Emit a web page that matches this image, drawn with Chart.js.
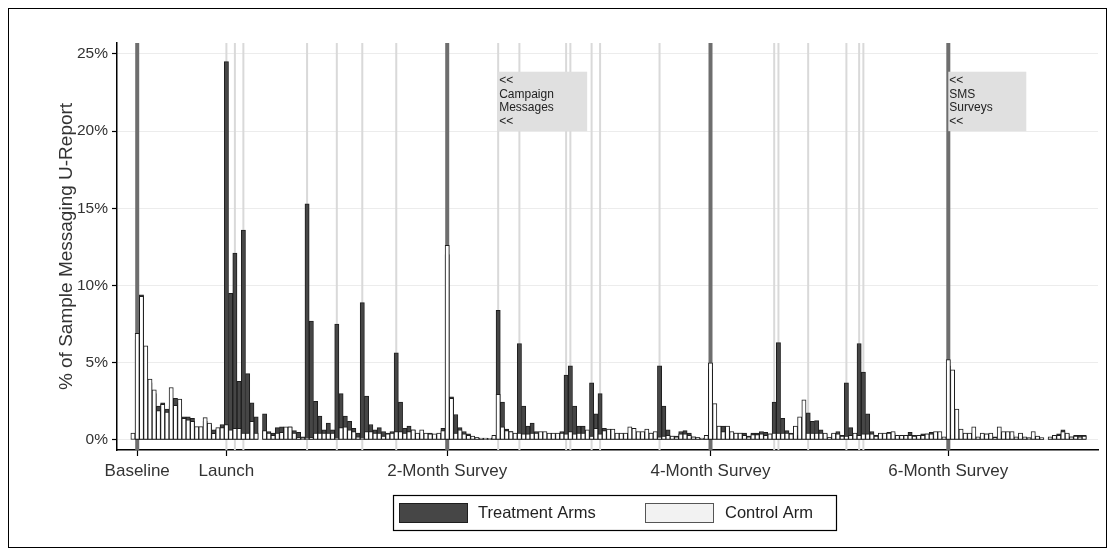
<!DOCTYPE html>
<html>
<head>
<meta charset="utf-8">
<script src="https://cdn.jsdelivr.net/npm/chart.js@4.4.1/dist/chart.umd.min.js"></script>
<style>
  html, body { margin: 0; padding: 0; background: #fff; }
  #wrap { position: relative; width: 1112px; height: 551px; overflow: hidden; }
  #chart { position: absolute; left: 0; top: 0; }
  #frame { position: absolute; left: 8px; top: 8px; width: 1099px; height: 540px; border: 1px solid #000; box-sizing: border-box; pointer-events: none; }
</style>
</head>
<body>
<div id="wrap">
  <canvas id="chart" width="1112" height="551"></canvas>
  <div id="frame"></div>
</div>
<script>
// daily % of sample messaging U-Report, day 0 = day before baseline survey
// null = no data that day
const treatment = [
  0, 6.5, 9.4, 5.8, 3.7, 3.0, 2.2, 2.4, 2.0, 2.2,
  2.7, 2.4, 1.5, 1.5, 1.4, 0.8, 0.7, 1.2, 1.0, 0.65,
  0.7, 1.0, 24.5, 9.5, 12.1, 3.8, 13.6, 4.3, 2.4, 1.5,
  null, 1.7, 0.55, 0.45, 0.8, 0.85, 0.8, 0.85, 0.6, 0.5,
  0.2, 15.3, 7.7, 2.5, 1.55, 0.65, 1.1, 0.65, 7.5, 3.0,
  1.55, 1.2, 0.75, 0.45, 8.9, 2.85, 1.0, 0.65, 0.8, 0.55,
  0.45, 0.55, 5.65, 2.45, 0.75, 0.9, 0.65, 0.4, 0.45, 0.4,
  0.45, 0.3, 0.35, 0.75, 12.0, 2.8, 1.65, 0.8, 0.55, 0.4,
  0.2, 0.15, 0.1, 0.12, 0.1, 0.2, 8.4, 2.45, 0.7, 0.55,
  0.35, 6.25, 2.2, 0.9, 1.1, 0.55, 0.45, 0.4, 0.3, 0.4,
  0.3, 0.55, 4.2, 4.8, 2.2, 0.9, 0.9, 0.55, 3.7, 1.7,
  3.0, 0.75, 0.55, 0.45, 0.4, 0.4, 0.35, 0.4, 0.55, 0.45,
  0.4, 0.45, 0.45, 0.35, 4.8, 2.2, 0.65, 0.25, 0.25, 0.55,
  0.6, 0.45, 0.2, 0.15, 0.1, 0.2, 4.6, 0.3, 0.9, 0.9,
  0.75, 0.45, 0.45, 0.45, 0.45, 0.25, 0.45, 0.45, 0.55, 0.5,
  0.4, 2.45, 6.3, 1.4, 0.6, 0.45, 0.25, 0.3, 0.45, 1.75,
  1.2, 1.25, 0.65, 0.4, 0.15, 0.4, 0.55, 0.3, 3.7, 0.8,
  0.4, 6.25, 4.4, 1.7, 0.55, 0.3, 0.3, 0.4, 0.5, 0.45,
  0.2, 0.2, 0.2, 0.5, 0.3, 0.2, 0.4, 0.4, 0.5, 0.2,
  0.2, 0.15, 4.8, 0.3, 0.2, 0.2, 0.2, 0.2, 0.25, 0.1,
  0.2, 0.4, 0.3, 0.2, 0.3, 0.45, 0.4, 0.3, 0.1, 0.2,
  0.15, 0.15, 0.2, 0.15, 0.1, null, 0.1, 0.2, 0.4, 0.65,
  0.4, 0.2, 0.3, 0.3, 0.3
];
const control = [
  0.45, 6.9, 9.3, 6.1, 3.95, 3.25, 1.9, 2.3, 1.8, 3.4,
  2.25, 2.65, 1.4, 1.3, 1.2, 0.86, 0.86, 1.45, 1.1, 0.43,
  0.8, 0.8, 1.0, 0.65, 0.75, 0.75, 0.45, 0.45, 1.2, 0.45,
  null, 0.6, 0.45, 0.3, 0.45, 0.5, 0.85, 0.85, 0.45, 0.15,
  0.1, 0.1, 0.15, 0.45, 0.45, 0.45, 0.45, 0.45, 0.1, 0.8,
  0.85, 0.65, 0.55, 0.2, 0.1, 0.55, 0.55, 0.45, 0.45, 0.25,
  0.4, 0.45, 0.55, 0.55, 0.45, 0.55, 0.65, 0.45, 0.65, 0.45,
  0.4, 0.4, 0.45, 0.6, 12.6, 2.7, 0.45, 0.65, 0.4, 0.3,
  0.25, 0.15, 0.12, 0.1, 0.1, 0.3, 2.95, 0.85, 0.6, 0.55,
  0.45, 0.45, 0.4, 0.4, 0.45, 0.45, 0.55, 0.55, 0.45, 0.45,
  0.45, 0.45, 0.4, 0.55, 0.4, 0.45, 0.45, 0.65, 0.25, 0.75,
  0.4, 0.6, 0.7, 0.7, 0.45, 0.45, 0.45, 0.85, 0.75, 0.55,
  0.55, 0.7, 0.45, 0.55, 0.2, 0.25, 0.3, 0.25, 0.2, 0.4,
  0.4, 0.3, 0.2, 0.15, 0.12, 0.3, 5.0, 2.35, 0.9, 0.55,
  0.9, 0.55, 0.45, 0.45, 0.3, 0.2, 0.35, 0.35, 0.4, 0.3,
  0.4, 0.45, 0.45, 0.45, 0.45, 0.4, 0.9, 1.5, 2.6, 0.45,
  0.45, 0.45, 0.45, 0.45, 0.15, 0.45, 0.4, 0.25, 0.25, 0.3,
  0.45, 0.3, 0.4, 0.4, 0.4, 0.25, 0.45, 0.45, 0.45, 0.55,
  0.3, 0.3, 0.3, 0.3, 0.25, 0.3, 0.3, 0.4, 0.4, 0.55,
  0.55, 0.2, 5.2, 4.55, 2.0, 0.7, 0.45, 0.45, 0.85, 0.2,
  0.45, 0.4, 0.45, 0.15, 0.85, 0.55, 0.55, 0.55, 0.2, 0.45,
  0.2, 0.1, 0.55, 0.25, 0.15, null, 0.2, 0.3, 0.3, 0.55,
  0.45, 0.2, 0.25, 0.2, 0.25
];

const surveyDays = [1, 74, 136, 192];
const campaignDays = [22, 24, 26, 41, 48, 54, 62, 86, 91, 102, 103, 108, 110, 124, 151, 152, 159, 168, 171, 172];
const tickDays = [1, 22, 74, 136, 192];
const tickLabels = ['Baseline', 'Launch', '2-Month Survey', '4-Month Survey', '6-Month Survey'];
const yTicks = [0, 5, 10, 15, 20, 25];
const noteDays = [86, 192];
const noteText = [['<<', 'Campaign', 'Messages', '<<'], ['<<', 'SMS', 'Surveys', '<<']];
const seriesNames = ['Treatment Arms', 'Control Arm'];

const days = treatment.map((v, i) => i);

Chart.defaults.font.family = "'Liberation Sans', Arial, sans-serif";
Chart.defaults.color = '#333';

const eventLines = {
  id: 'eventLines',
  beforeDatasetsDraw(chart) {
    const { ctx, chartArea: a, scales: { x } } = chart;
    ctx.save();
    ctx.beginPath();
    ctx.rect(a.left, a.top, a.right - a.left, a.bottom - a.top);
    ctx.clip();
    function draw(list, color, w) {
      ctx.strokeStyle = color;
      ctx.lineWidth = w;
      list.forEach(d => {
        const px = x.getPixelForValue(d);
        ctx.beginPath();
        ctx.moveTo(px, a.top);
        ctx.lineTo(px, a.bottom);
        ctx.stroke();
      });
    }
    draw(campaignDays, '#d9d9d9', 2);
    draw(surveyDays, '#6e6e6e', 4);
    ctx.restore();
  }
};

const notes = {
  id: 'notes',
  afterDatasetsDraw(chart) {
    const { ctx, scales: { x, y } } = chart;
    const widths = [89, 78];
    ctx.save();
    noteDays.forEach((d, i) => {
      const left = x.getPixelForValue(d);
      const top = y.getPixelForValue(23.85);
      const bottom = y.getPixelForValue(20);
      ctx.fillStyle = '#e0e0e0';
      ctx.fillRect(left, top, widths[i], bottom - top);
      ctx.fillStyle = '#222';
      ctx.font = "12px 'Liberation Sans', Arial, sans-serif";
      ctx.textBaseline = 'middle';
      noteText[i].forEach((t, j) => ctx.fillText(t, left + 1, top + 9 + j * 13.5));
    });
    ctx.restore();
  }
};

// Stata style boxed legend under the axis
const boxLegend = {
  id: 'boxLegend',
  afterDraw(chart) {
    const { ctx } = chart;
    ctx.save();
    ctx.strokeStyle = '#000';
    ctx.lineWidth = 1.2;
    ctx.strokeRect(393.5, 495.5, 443, 35);
    ctx.font = "16.5px 'Liberation Sans', Arial, sans-serif";
    ctx.textBaseline = 'middle';
    const items = [
      { x: 399, fill: '#464646', stroke: '#1e1e1e', tx: 478 },
      { x: 645, fill: '#f2f2f2', stroke: '#555', tx: 725 }
    ];
    items.forEach((it, i) => {
      ctx.fillStyle = it.fill;
      ctx.fillRect(it.x, 503, 68, 19);
      ctx.strokeStyle = it.stroke;
      ctx.lineWidth = 1;
      ctx.strokeRect(it.x + 0.5, 503.5, 68, 19);
      ctx.fillStyle = '#222';
      ctx.fillText(seriesNames[i], it.tx, 513);
    });
    ctx.restore();
  }
};

new Chart(document.getElementById('chart'), {
  type: 'bar',
  data: {
    datasets: [
      {
        label: seriesNames[0],
        data: days.map(d => ({ x: d, y: treatment[d] })),
        backgroundColor: '#464646',
        borderColor: '#1e1e1e',
        borderWidth: 1,
        borderSkipped: false,
        grouped: false,
        barPercentage: 1,
        categoryPercentage: 1,
        order: 1
      },
      {
        label: seriesNames[1],
        data: days.map(d => ({ x: d, y: control[d] })),
        backgroundColor: '#ffffff',
        borderColor: '#1e1e1e',
        borderWidth: 1,
        borderSkipped: false,
        grouped: false,
        barPercentage: 1,
        categoryPercentage: 1,
        order: 0
      }
    ]
  },
  options: {
    responsive: false,
    animation: false,
    devicePixelRatio: 1,
    layout: { padding: { top: 43, right: 14, bottom: 56, left: 0 } },
    plugins: { legend: { display: false }, tooltip: { enabled: false } },
    scales: {
      x: {
        type: 'linear',
        min: -3.76,
        max: 227.25,
        offset: false,
        afterBuildTicks: s => { s.ticks = tickDays.map(v => ({ value: v })); },
        afterFit: s => { s.height = 45; },
        grid: { drawOnChartArea: false, offset: false, tickLength: 6, tickColor: '#000', tickWidth: 1.2 },
        border: { color: '#000', width: 1.5 },
        ticks: {
          autoSkip: false,
          maxRotation: 0,
          padding: 5,
          color: '#333',
          font: { size: 17 },
          callback: v => tickLabels[tickDays.indexOf(v)]
        }
      },
      y: {
        min: -0.65,
        max: 25.71,
        afterBuildTicks: s => { s.ticks = yTicks.map(v => ({ value: v })); },
        afterFit: s => { s.width = 117; },
        grid: { color: '#ececec', lineWidth: 1, tickLength: 5, tickColor: '#000', tickWidth: 1.2 },
        border: { color: '#000', width: 1.5 },
        ticks: { padding: 4, color: '#333', font: { size: 15.5 }, callback: v => v + '%' },
        title: {
          display: true,
          text: '% of Sample Messaging U-Report',
          color: '#333',
          font: { size: 19 },
          padding: { top: 55, bottom: 0 }
        }
      }
    }
  },
  plugins: [eventLines, notes, boxLegend]
});
</script>
</body>
</html>
